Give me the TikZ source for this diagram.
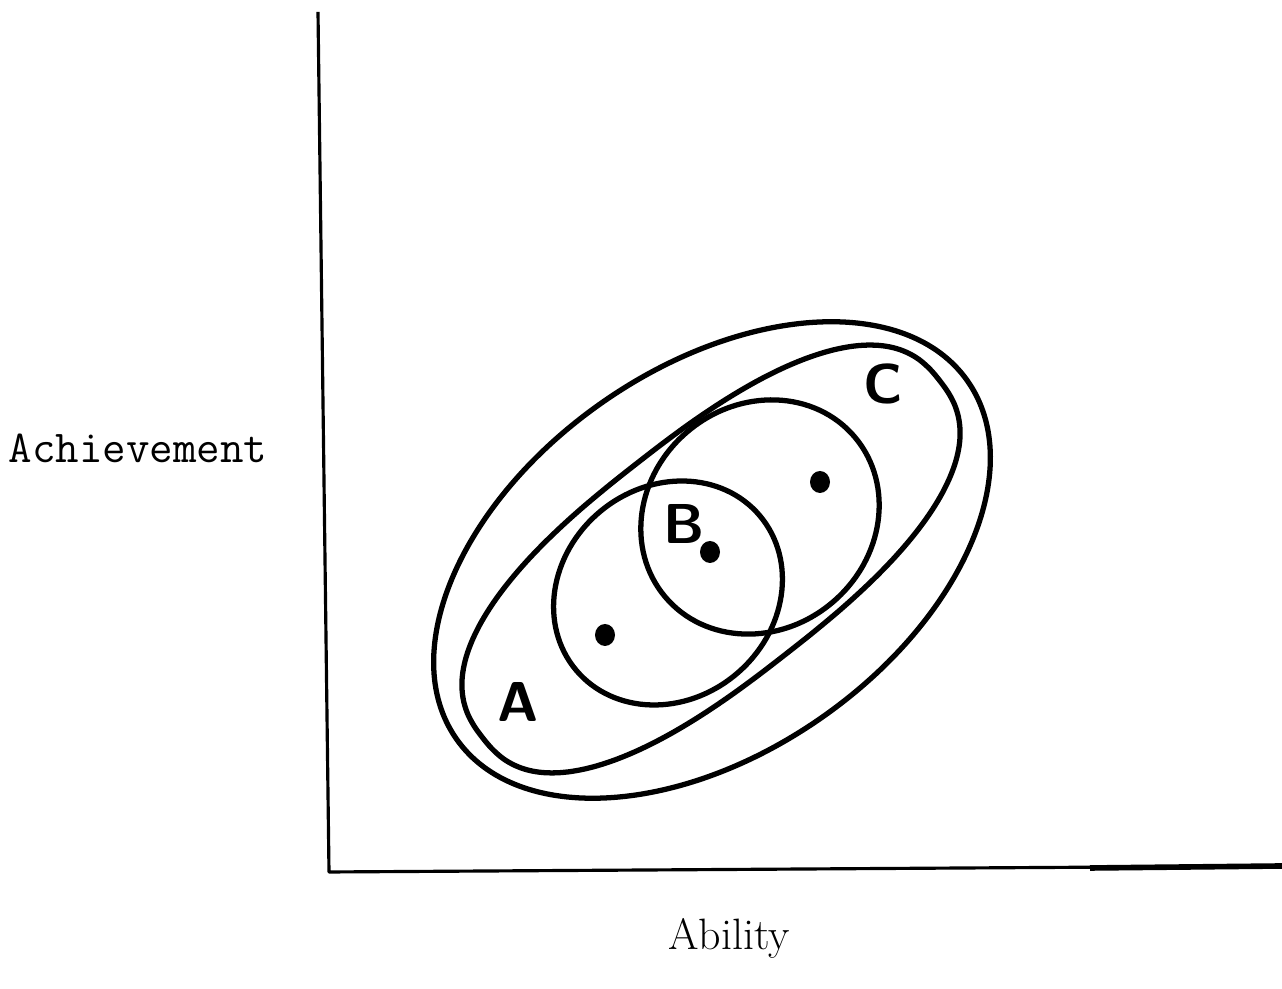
\documentclass[tikz,border=0pt]{standalone}
\usepackage{tikz}
\usetikzlibrary{shapes.geometric}

\tikzset{
  axisline/.style={line width=1.8pt, line join=round},
  curve/.style={line width=3pt, line join=round},
  grpdot/.style={ellipse, fill=black, inner sep=0pt, minimum width=0.4cm, minimum height=0.44cm},
  grplabel/.style={font=\fontsize{32}{36}\selectfont\sffamily\bfseries, inner sep=0pt},
  typelabel/.style={font=\fontsize{26}{30}\selectfont\ttfamily, inner sep=0pt},
  printlabel/.style={font=\fontsize{25}{30}\selectfont, inner sep=0pt}
}

\begin{document}
\begin{tikzpicture}[x=0.02cm,y=0.02cm]
    \useasboundingbox (0,0) rectangle (1282,989);
    % axes
    \coordinate (ytop) at (318,977);
    \coordinate (origin) at (329,117);
    \coordinate (xthick) at (1090,121);
    \coordinate (xend) at (1282,123);
    \draw[axisline] (ytop) -- (origin) -- (xend);
    \draw[line width=3.2pt] (xthick) -- (xend);
    \node[typelabel] (achv) at (138,541) {Achievement};
    \node[printlabel] (abil) at (729,51) {Ability};
    % whole group
    \draw[curve,rotate around={35:(712,429)}] (712,429) ellipse [x radius=312,y radius=192];
    % long one, a bit squarer than an ellipse
    \draw[curve,shift={(711,430)},rotate=38] plot[smooth cycle,domain=0.5:357.5,samples=120,variable=\t]
      ({290*sign(cos(\t))*abs(cos(\t))^0.8},{121*sign(sin(\t))*abs(sin(\t))^0.8});
    % the two rounder ones
    \draw[curve,rotate around={40:(668,396)}] (668,396) ellipse [x radius=120,y radius=106];
    \draw[curve,rotate around={40:(760,472)}] (760,472) ellipse [x radius=124,y radius=112];
    % centroids
    \foreach \px/\py/\n in {605/354/dotA,710/437/dotB,820/507/dotC} {
      \node[grpdot] (\n) at (\px,\py) {};
    }
    % group letters
    \node[grplabel] (labA) at (518,287) {A};
    \node[grplabel] (labB) at (684,465) {B};
    \node[grplabel] (labC) at (883,605) {C};
\end{tikzpicture}
\end{document}
